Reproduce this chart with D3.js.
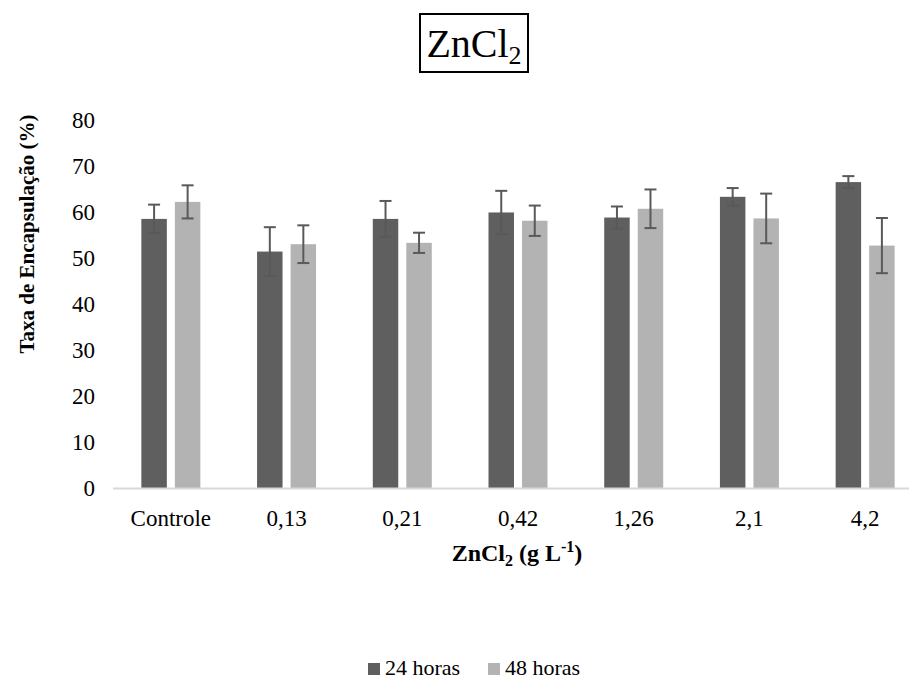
<!DOCTYPE html>
<meta charset="utf-8">
<script src="https://d3js.org/d3.v7.min.js"></script>
<style>
  body { margin: 0; background: #fff; }
</style>
<body>
<svg width="909" height="682" font-family="'Liberation Serif', 'Times New Roman', 'DejaVu Serif', serif"></svg>
<script>
    var categories = ['Controle', '0,13', '0,21', '0,42', '1,26', '2,1', '4,2'];
    var series     = ['24 horas', '48 horas'];
    var mean24 = [58.5, 51.4, 58.5, 59.9, 58.8, 63.3, 66.5];
    var err24  = [3.1, 5.3, 3.9, 4.7, 2.4, 1.9, 1.3];
    var mean48 = [62.2, 53.0, 53.3, 58.1, 60.7, 58.6, 52.7];
    var err48  = [3.6, 4.1, 2.2, 3.3, 4.2, 5.4, 6.0];
    var yTicks = [0, 10, 20, 30, 40, 50, 60, 70, 80];
    var colors = ['#5f5f5f', '#b3b3b3'];

    var svg = d3.select('svg');

    var data = categories.map(function(c, i){
        return { cat: c, vals: [
            { s: series[0], v: mean24[i], e: err24[i] },
            { s: series[1], v: mean48[i], e: err48[i] }
        ]};
    });

    var x0 = d3.scaleBand().domain(categories).range([113, 923]);
    var bw = x0.bandwidth();
    var x1 = d3.scaleBand().domain(series).range([bw/2 - 29.5, bw/2 + 29.5]).paddingInner(0.24);
    var y  = d3.scaleLinear().domain([0, 80]).range([488, 120]);
    var color = d3.scaleOrdinal().domain(series).range(colors);

    // y tick labels
    svg.append('g').selectAll('text').data(yTicks).enter().append('text')
        .attr('x', 95).attr('y', function(d){ return y(d) + 8; })
        .attr('text-anchor', 'end').style('font-size', '23px')
        .text(function(d){ return d; });

    // bars
    var groups = svg.append('g').selectAll('g').data(data).enter().append('g')
        .attr('transform', function(d){ return 'translate(' + x0(d.cat) + ',0)'; });

    groups.selectAll('rect').data(function(d){ return d.vals; }).enter().append('rect')
        .attr('x', function(d){ return x1(d.s); })
        .attr('width', x1.bandwidth())
        .attr('y', function(d){ return y(d.v); })
        .attr('height', function(d){ return y(0) - y(d.v); })
        .attr('fill', function(d){ return color(d.s); });

    // error bars
    var eb = groups.selectAll('g.err').data(function(d){ return d.vals; }).enter().append('g')
        .attr('class', 'err')
        .attr('stroke', '#595959').attr('stroke-width', 2);
    eb.append('line')
        .attr('x1', function(d){ return x1(d.s) + x1.bandwidth()/2; })
        .attr('x2', function(d){ return x1(d.s) + x1.bandwidth()/2; })
        .attr('y1', function(d){ return y(d.v + d.e); })
        .attr('y2', function(d){ return y(d.v - d.e); });
    [1, -1].forEach(function(sg){
        eb.append('line')
            .attr('x1', function(d){ return x1(d.s) + x1.bandwidth()/2 - 6; })
            .attr('x2', function(d){ return x1(d.s) + x1.bandwidth()/2 + 6; })
            .attr('y1', function(d){ return y(d.v + sg*d.e); })
            .attr('y2', function(d){ return y(d.v + sg*d.e); });
    });

    // x axis line
    svg.append('line').attr('x1', 113).attr('x2', 909)
        .attr('y1', y(0) + 0.5).attr('y2', y(0) + 0.5)
        .attr('stroke', '#d9d9d9').attr('stroke-width', 2);

    // x tick labels
    svg.append('g').selectAll('text').data(categories).enter().append('text')
        .attr('x', function(d){ return x0(d) + bw/2; })
        .attr('y', 526)
        .attr('text-anchor', 'middle').style('font-size', '23px')
        .text(function(d){ return d; });

    // x axis title
    var xt = svg.append('text').attr('x', 517).attr('y', 561)
        .attr('text-anchor', 'middle').style('font-size', '24px').style('font-weight', 'bold');
    xt.append('tspan').text('ZnCl');
    xt.append('tspan').attr('dy', 5).style('font-size', '16px').text('2');
    xt.append('tspan').attr('dy', -5).text(' (g L');
    xt.append('tspan').attr('dy', -9).style('font-size', '16px').text('-1');
    xt.append('tspan').attr('dy', 9).text(')');

    // y axis title
    svg.append('text')
        .attr('transform', 'translate(34,' + 234 + ') rotate(-90)')
        .attr('text-anchor', 'middle').style('font-size', '21px').style('font-weight', 'bold')
        .text('Taxa de Encapsulação (%)');

    // chart title in a box
    svg.append('rect').attr('x', 420).attr('y', 14).attr('width', 108).attr('height', 58)
        .attr('fill', 'none').attr('stroke', '#000').attr('stroke-width', 2);
    var tt = svg.append('text').attr('x', 474).attr('y', 57)
        .attr('text-anchor', 'middle').style('font-size', '40px');
    tt.append('tspan').text('ZnCl');
    tt.append('tspan').attr('dy', 7).style('font-size', '26px').text('2');

    // legend
    var lg = svg.append('g').selectAll('g').data(series).enter().append('g')
        .attr('transform', function(d, i){ return 'translate(' + (368 + i*120) + ',663)'; });
    lg.append('rect').attr('width', 12).attr('height', 12)
        .attr('fill', function(d){ return color(d); });
    lg.append('text').attr('x', 17).attr('y', 12).style('font-size', '22px')
        .text(function(d){ return d; });
</script>
</body>
